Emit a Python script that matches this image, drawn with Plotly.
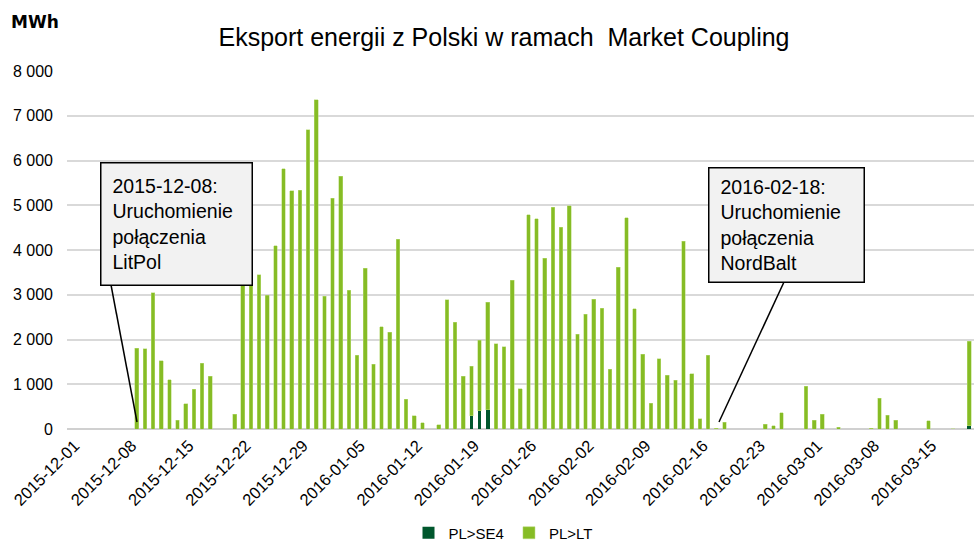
import pandas as pd
import plotly.graph_objects as go

# ---------------- data ----------------
start_date = "2015-12-01"
# daily export PL>LT [MWh], 2015-12-01 .. 2016-03-19
pl_lt = [
    0, 0, 0, 0, 0, 0, 0,
    1810, 1790, 3040, 1525, 1100, 200, 560,
    890, 1465, 1175, 0, 0, 335, 3400,
    3350, 3450, 2985, 4090, 5820, 5320, 5335,
    6690, 7360, 2970, 5155, 5650, 3100, 1645,
    3590, 1450, 2290, 2165, 4235, 660, 300,
    135, 0, 90, 2885, 2390, 1175, 1100,
    1575, 2410, 1910, 1840, 3325, 895, 4790,
    4695, 3815, 4955, 4510, 4985, 2115, 2565,
    2900, 2695, 1340, 3615, 4725, 2685, 1675,
    580, 1570, 1205, 1095, 4195, 1240, 230,
    1650, 20, 150, 0, 0, 0, 0,
    105, 75, 365, 0, 0, 955, 200,
    335, 0, 35, 0, 0, 0, 20,
    685, 305, 195, 0, 0, 0, 180,
    0, 0, 5, 0, 1890,
]
# daily export PL>SE4 [MWh]
pl_se4 = [
    0, 0, 0, 0, 0, 0, 0,
    0, 0, 0, 0, 0, 0, 0,
    0, 0, 0, 0, 0, 0, 0,
    0, 0, 0, 0, 0, 0, 0,
    0, 0, 0, 0, 0, 0, 0,
    0, 0, 0, 0, 0, 0, 0,
    0, 0, 0, 0, 0, 0, 300,
    410, 425, 0, 0, 0, 0, 0,
    0, 0, 0, 0, 0, 0, 0,
    0, 0, 0, 0, 0, 0, 0,
    0, 0, 0, 0, 0, 0, 0,
    0, 0, 0, 0, 0, 0, 0,
    0, 0, 0, 0, 0, 0, 0,
    0, 0, 0, 0, 0, 0, 0,
    0, 0, 0, 0, 0, 0, 0,
    0, 0, 0, 0, 70,
]
dates = pd.date_range(start_date, periods=len(pl_lt), freq="D")

series_names = ["PL>SE4", "PL>LT"]
title_text = "Eksport energii z Polski w ramach  Market Coupling"
unit_label = "MWh"
note_litpol = "2015-12-08:<br>Uruchomienie<br>połączenia<br>LitPol"
note_nordbalt = "2016-02-18:<br>Uruchomienie<br>połączenia<br>NordBalt"
y_ticks = [0, 1000, 2000, 3000, 4000, 5000, 6000, 7000, 8000]

# ---------------- layout constants ----------------
W, H = 974, 543
ML, MR, MT, MB = 67, 0, 71, 114
PW, PH = W - ML - MR, H - MT - MB

def paper(px, py):
    return (px - ML) / PW, (H - MB - py) / PH

FONT = "Liberation Sans, Arial, sans-serif"
DARK = "#00572d"
LIGHT = "#86bc25"

fig = go.Figure()
fig.add_trace(go.Bar(x=dates, y=pl_se4, name=series_names[0],
                     marker=dict(color=DARK, line=dict(width=0))))
fig.add_trace(go.Bar(x=dates, y=pl_lt, name=series_names[1],
                     marker=dict(color=LIGHT, line=dict(color="#b9db7a", width=0.5))))

fig.update_layout(
    width=W, height=H,
    margin=dict(l=ML, r=MR, t=MT, b=MB, autoexpand=False),
    barmode="stack", bargap=0.55,
    paper_bgcolor="white", plot_bgcolor="white",
    separators=", ",
    font=dict(family=FONT, size=16, color="#000000"),
    title=dict(text=title_text, x=504 / W, xanchor="center", xref="container",
               y=1 - 37 / H, yanchor="middle", yref="container",
               font=dict(family=FONT, size=25, color="#000000")),
    showlegend=True,
    legend=dict(orientation="h", x=503 / W, xanchor="center", xref="container",
                y=1 - 533 / H, yanchor="middle", yref="container",
                font=dict(family=FONT, size=15), itemwidth=30,
                traceorder="normal"),
)

fig.update_xaxes(
    type="date",
    range=["2015-11-29 11:00", "2016-03-19 14:00"],
    tick0=start_date, dtick=7 * 86400000, tickformat="%Y-%m-%d",
    tickangle=-45, tickfont=dict(family=FONT, size=16.5),
    ticklabelshift=-5, ticklabelstandoff=3,
    showgrid=False, showline=False, ticks="", automargin=False,
)
fig.update_yaxes(
    range=[0, 8000], tickvals=y_ticks, tickformat=",d",
    tickfont=dict(family=FONT, size=16),
    showgrid=True, gridcolor="#d9d9d9", gridwidth=1.5,
    zeroline=True, zerolinecolor="#d0d0d0", zerolinewidth=2,
    showline=False, ticks="", ticklabelstandoff=13, automargin=False,
)

# unit label
fig.add_annotation(text="<b>" + unit_label + "</b>", xref="paper", yref="paper",
                   x=paper(9, 0)[0], y=paper(0, 22)[1], xanchor="left", yanchor="middle",
                   showarrow=False, font=dict(family="DejaVu Sans", size=17, color="#000"))

# callout boxes
for (bx, by, bw, bh, txt) in [(100, 162, 153, 124, note_litpol), (708, 167, 157, 116, note_nordbalt)]:
    xp, yp = paper(bx, by)
    fig.add_annotation(text=txt, xref="paper", yref="paper", x=xp, y=yp,
                       xanchor="left", yanchor="top", align="left", valign="middle",
                       showarrow=False, width=bw - 25, height=bh - 25,
                       bgcolor="#f2f2f2", bordercolor="#000000", borderwidth=1.5,
                       borderpad=11, font=dict(family=FONT, size=19.5, color="#000"))

# leader lines
for (x0, y0, x1, y1) in [(111, 285, 137, 422), (784, 282, 719, 422)]:
    a = paper(x0, y0)
    b = paper(x1, y1)
    fig.add_shape(type="line", xref="paper", yref="paper", x0=a[0], y0=a[1],
                  x1=b[0], y1=b[1], line=dict(color="#000000", width=1.5), layer="above")

fig.write_html("out.html", config={"displayModeBar": False},
               post_script="document.body.style.margin='0';document.body.style.padding='0';")
